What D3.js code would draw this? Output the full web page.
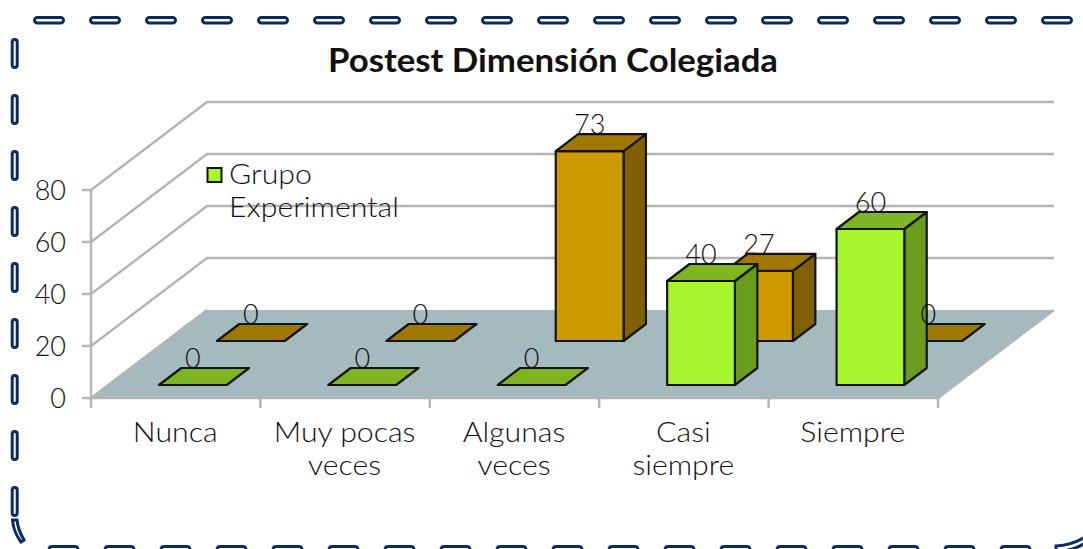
<!DOCTYPE html>
<html><head><meta charset="utf-8">
<script src="https://cdn.jsdelivr.net/npm/d3@7"></script>
<style>html,body{margin:0;padding:0;background:#fff;overflow:hidden}svg{display:block}text{font-family:Lato,sans-serif;fill:#111;font-weight:300}</style>
</head><body><svg id="c" width="1083" height="549"></svg>
<script>
const title = "Postest Dimensión Colegiada";
const categories = [["Nunca"],["Muy pocas","veces"],["Algunas","veces"],["Casi","siempre"],["Siempre"]];
const experimental = [0,0,0,40,60];
const control = [0,0,73,27,0];
const yTicks = [0,20,40,60,80];
const legendLines = ["Grupo","Experimental"];

const svg = d3.select("#c");
const x = d3.scaleLinear().domain([0,5]).range([91,938]);
const y = d3.scaleLinear().domain([0,80]).range([398,190]);
const zx = d3.scaleLinear().domain([0,1]).range([0,116]);
const zy = d3.scaleLinear().domain([0,1]).range([0,-88]);
const P = (c,v,z)=>[x(c)+zx(z), y(v)+zy(z)];
const poly = pts => pts.map(p=>p.join(",")).join(" ");
const GRAY = "#b4b4b4";
// widen a text to the wider face of the original
const widen = (sel,k)=>sel.each(function(){ this.setAttribute("textLength",this.getComputedTextLength()*k); this.setAttribute("lengthAdjust","spacingAndGlyphs"); });

// border
const border = svg.append("g").attr("fill","#fff").attr("stroke","#0b2a66").attr("stroke-width",3);
d3.range(34.5,1083,56).forEach(a=>border.append("rect").attr("x",a).attr("y",17.5).attr("width",29).attr("height",5.5).attr("rx",2.8));
d3.range(39.5,520,56).forEach(a=>border.append("rect").attr("x",12.2).attr("y",a).attr("width",5).attr("height",28).attr("rx",2.5));
d3.range(49,1040,56).forEach(a=>border.append("rect").attr("x",a).attr("y",546.5).attr("width",29).attr("height",8).attr("rx",2.8));
border.append("path").attr("d","M12.5 520 Q13.5 532 21 542 L24 540 Q18 530 17 520 Z");
border.append("path").attr("d","M1056 551 L1056 546 Q1072 545 1085 537 L1085 543 Q1072 551 1060 551 Z");

// floor
svg.append("polygon").attr("fill","#a4babe").attr("points",poly([P(0,0,0),P(5,0,0),P(5,0,1),P(0,0,1)]));

// walls
const grid = svg.append("g").attr("fill","none").attr("stroke",GRAY).attr("stroke-width",2.4);
yTicks.forEach(t=>{
  if(t>0) grid.append("polyline").attr("points",poly([P(0,t,0),P(0,t,1),P(5,t,1)]));
  grid.append("line").attr("x1",x(0)-9).attr("x2",x(0)).attr("y1",y(t)).attr("y2",y(t));
});
grid.append("line").attr("x1",x(0)).attr("x2",x(0)).attr("y1",y(80)).attr("y2",y(0));
grid.append("polyline").attr("points",poly([P(0,0,1),P(0,0,0),P(5,0,0),P(5,0,1)]));
d3.range(0,6).forEach(i=>grid.append("line").attr("x1",x(i)).attr("x2",x(i)).attr("y1",y(0)).attr("y2",y(0)+10));

// bars
const barW = 0.4, gap = 0.3;
function bars(values, z0, z1, front, side, top){
  const g = svg.append("g").attr("stroke","#14140a").attr("stroke-width",2.2).attr("stroke-linejoin","round");
  values.forEach((v,i)=>{
    const a=i+gap, b=a+barW;
    if(v>0){
      g.append("polygon").attr("fill",side).attr("points",poly([P(b,0,z0),P(b,0,z1),P(b,v,z1),P(b,v,z0)]));
      g.append("polygon").attr("fill",front).attr("points",poly([P(a,0,z0),P(b,0,z0),P(b,v,z0),P(a,v,z0)]));
    }
    g.append("polygon").attr("fill",top).attr("points",poly([P(a,v,z0),P(b,v,z0),P(b,v,z1),P(a,v,z1)]));
  });
}
const zG=[13/88,30/88], zO=[57/88,74/88];
bars(control,zO[0],zO[1],"#cc9900","#806000","#a07800");
bars(experimental,zG[0],zG[1],"#a6f52f","#6a9c1e","#7fb522");

// data labels
const labels = svg.append("g").attr("font-size",27).attr("text-anchor","middle");
[[control,zO],[experimental,zG]].forEach(([vals,z])=>vals.forEach((v,i)=>{
  const front=P(i+gap+barW/2,v,z[0]), back=P(i+gap+barW/2,v,z[1]);
  labels.append("text").attr("x",front[0]).attr("y",back[1]).text(v);
}));

// y tick labels
svg.append("g").attr("font-size",27).attr("text-anchor","end").selectAll("text").data(yTicks).join("text")
  .attr("x",66).attr("y",d=>y(d)+10).text(d=>d);

// category labels
const cat = svg.append("g").attr("font-size",27).attr("text-anchor","middle");
categories.forEach((ls,i)=>ls.forEach((l,j)=>cat.append("text").attr("x",x(i+.5)-.5).attr("y",442+j*33).text(l)));
widen(cat.selectAll("text"),1.12);

// legend
svg.append("rect").attr("x",207.5).attr("y",168).attr("width",14).attr("height",14).attr("fill","#a6f52f").attr("stroke","#14140a").attr("stroke-width",2);
const leg = svg.append("g").attr("font-size",27).selectAll("text").data(legendLines).join("text").attr("x",229).attr("y",(d,i)=>184+i*33).text(d=>d);
widen(leg,1.12);

// title
const t = svg.append("text").attr("x",553).attr("y",72).attr("text-anchor","middle").attr("font-size",32).style("font-weight",700).text(title);
t.attr("textLength",450).attr("lengthAdjust","spacingAndGlyphs");
</script></body></html>
